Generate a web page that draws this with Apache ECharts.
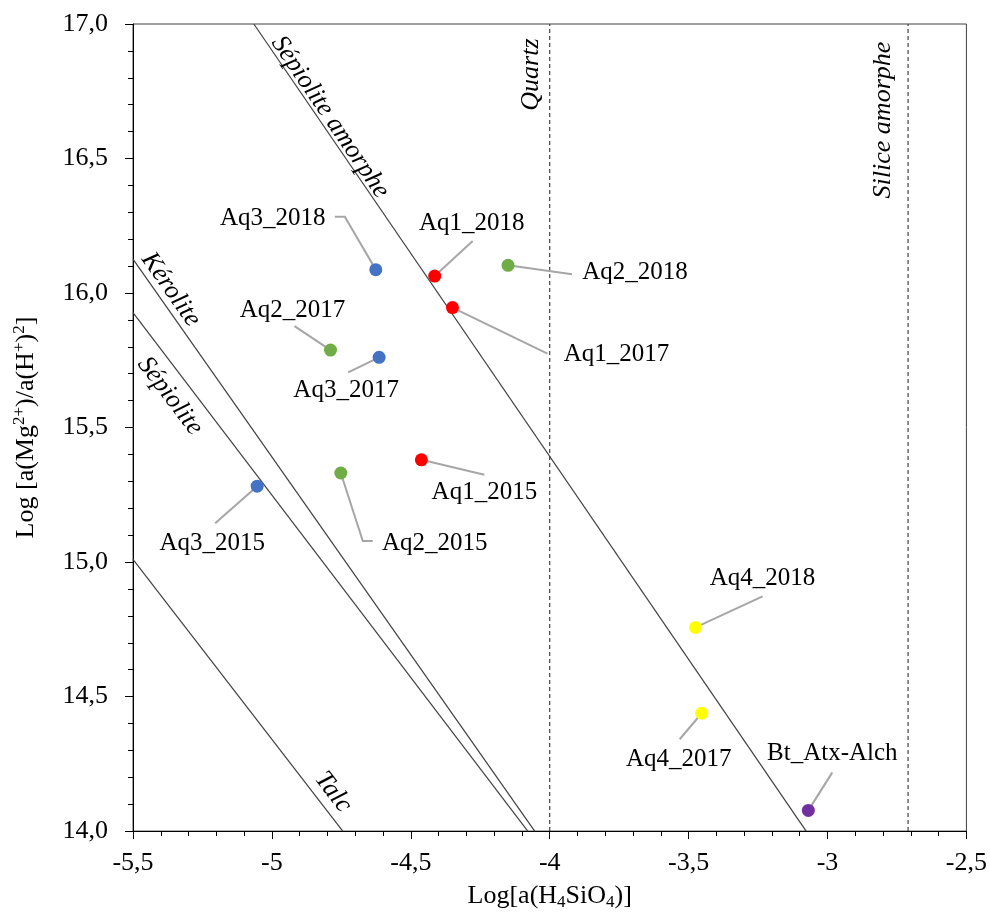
<!DOCTYPE html>
<html>
<head>
<meta charset="utf-8">
<script src="https://cdn.jsdelivr.net/npm/echarts@6/dist/echarts.min.js"></script>
<style>
html,body{margin:0;padding:0;background:#fff;}
#chart{width:990px;height:916px;}
</style>
</head>
<body>
<div id="chart"></div>
<script>
// ---- Data ----
const sampleNames = ['Aq3_2018','Aq1_2018','Aq2_2018','Aq1_2017','Aq2_2017','Aq3_2017','Aq3_2015','Aq2_2015','Aq1_2015','Aq4_2018','Aq4_2017','Bt_Atx-Alch'];
const sampleX = [-4.626,-4.414,-4.150,-4.350,-4.789,-4.614,-5.053,-4.752,-4.462,-3.475,-3.453,-3.069];
const sampleY = [16.087,16.063,16.103,15.946,15.788,15.761,15.282,15.331,15.380,14.757,14.438,14.077];

const talcX = [-5.5, -4.745];
const talcY = [15.01, 14.0];
const keroliteX = [-5.5, -4.054];
const keroliteY = [16.126, 14.0];
const sepioliteX = [-5.5, -4.079];
const sepioliteY = [15.927, 14.0];
const sepAmorpheX = [-5.065, -3.077];
const sepAmorpheY = [17.0, 14.0];
const quartzX = [-4.0, -4.0];
const quartzY = [14.0, 17.0];
const siliceX = [-2.71, -2.71];
const siliceY = [14.0, 17.0];

const xTickValues = [-5.5,-5,-4.5,-4,-3.5,-3,-2.5];
const xTickLabels = ['-5,5','-5','-4,5','-4','-3,5','-3','-2,5'];
const yTickValues = [14,14.5,15,15.5,16,16.5,17];
const yTickLabels = ['14,0','14,5','15,0','15,5','16,0','16,5','17,0'];

const annotTexts = ['Sépiolite amorphe','Kérolite','Sépiolite','Talc','Quartz','Silice amorphe'];
const annotX = [-4.791,-5.364,-5.367,-4.780,-4.065,-2.798];
const annotY = [16.654,16.013,15.617,14.145,16.812,16.643];

// ---- Styles / layout (kept apart from data) ----
const sampleColors = ['#4472C4','#FF0000','#70AD47','#FF0000','#70AD47','#4472C4','#4472C4','#70AD47','#FF0000','#FFFF00','#FFFF00','#7030A0'];
const labelOffsets = [[-103,-51],[37,-53],[127,7],[164,47],[-38,-40],[-33,33],[-45,57],[94,70],[63,33],[67,-49],[-23,46],[24,-57]];
const leaderOffsets = [
  [[-31,-53],[-41,-53]],
  [[38,-35]],
  [[64,9]],
  [[95,46]],
  [[-36,-24]],
  [[-31,15]],
  [[-42,37]],
  [[22,68],[32,68]],
  [[63,15]],
  [[67,-31]],
  [[-22,26]],
  [[24,-38]]
];
const annotRotDeg = [-55.8,-55.1,-52.9,-52.5,90,90];

const SERIF = '"Liberation Serif","Times New Roman",serif';

function pairs(xs, ys){ return xs.map((x,i)=>[x, ys[i]]); }
function fmt(values, labels){
  return function(v){
    const i = values.findIndex(t => Math.abs(t - v) < 1e-6);
    return i >= 0 ? labels[i] : '';
  };
}

const mineralLine = (xs, ys) => ({
  type:'line', data: pairs(xs, ys), showSymbol:false, symbol:'none', silent:true,
  lineStyle:{color:'#404040', width:1.2}, z:2, animation:false
});
const dashedLine = (xs, ys) => ({
  type:'line', data: pairs(xs, ys), showSymbol:false, symbol:'none', silent:true,
  lineStyle:{color:'#404040', width:1.2, type:[4,3]}, z:2, animation:false
});

const chart = echarts.init(document.getElementById('chart'), null, {renderer:'canvas'});
const option = {
  backgroundColor:'#ffffff',
  animation:false,
  grid:{left:133, right:23, top:24, bottom:78, show:true, borderColor:'#404040', borderWidth:1, backgroundColor:'transparent'},
  xAxis:{
    type:'value', min:-5.5, max:-2.5, interval:0.5,
    axisLine:{show:true, onZero:false, lineStyle:{color:'#000', width:1}},
    axisTick:{show:true, length:8, lineStyle:{color:'#000'}},
    minorTick:{show:true, splitNumber:5, length:5, lineStyle:{color:'#000'}},
    splitLine:{show:false}, minorSplitLine:{show:false},
    axisLabel:{formatter: fmt(xTickValues, xTickLabels), fontFamily:SERIF, fontSize:26, color:'#000', margin:19},
    name:'Log[a(H{sub|4}SiO{sub|4})]', nameLocation:'middle', nameGap:49,
    nameTextStyle:{fontFamily:SERIF, fontSize:26, color:'#000', lineHeight:30,
      rich:{sub:{fontFamily:SERIF, fontSize:17, color:'#000', verticalAlign:'bottom', lineHeight:20}}}
  },
  yAxis:{
    type:'value', min:14, max:17, interval:0.5,
    axisLine:{show:true, onZero:false, lineStyle:{color:'#000', width:1}},
    axisTick:{show:true, length:8, lineStyle:{color:'#000'}},
    minorTick:{show:true, splitNumber:5, length:5, lineStyle:{color:'#000'}},
    splitLine:{show:false}, minorSplitLine:{show:false},
    axisLabel:{formatter: fmt(yTickValues, yTickLabels), fontFamily:SERIF, fontSize:26, color:'#000', margin:25},
    name:'Log [a(Mg{sup|2+})/a(H{sup|+}){sup|2}]', nameLocation:'middle', nameGap:92, nameRotate:90,
    nameTextStyle:{fontFamily:SERIF, fontSize:26, color:'#000', lineHeight:30,
      rich:{sup:{fontFamily:SERIF, fontSize:17, color:'#000', verticalAlign:'top', lineHeight:18}}}
  },
  series:[
    mineralLine(talcX, talcY),
    mineralLine(keroliteX, keroliteY),
    mineralLine(sepioliteX, sepioliteY),
    mineralLine(sepAmorpheX, sepAmorpheY),
    dashedLine(quartzX, quartzY),
    dashedLine(siliceX, siliceY),
    {
      type:'custom', silent:true, z:3, animation:false,
      data: sampleX.map((x,i)=>[x, sampleY[i]]),
      renderItem:function(params, api){
        const p = api.coord([api.value(0), api.value(1)]);
        const pts = [p].concat(leaderOffsets[params.dataIndex].map(o=>[p[0]+o[0], p[1]+o[1]]));
        return {type:'polyline', shape:{points:pts}, style:{stroke:'#A6A6A6', lineWidth:2, fill:null}};
      }
    },
    {
      type:'scatter', symbol:'circle', symbolSize:13, z:5, animation:false,
      data: sampleNames.map((n,i)=>({
        name:n, value:[sampleX[i], sampleY[i]],
        itemStyle:{color:sampleColors[i], opacity:1},
        label:{offset:labelOffsets[i]}
      })),
      label:{show:true, position:'inside', formatter:'{b}', fontFamily:SERIF, fontSize:25, color:'#000'}
    },
    {
      type:'custom', silent:true, z:4, animation:false,
      data: annotX.map((x,i)=>[x, annotY[i]]),
      renderItem:function(params, api){
        const p = api.coord([api.value(0), api.value(1)]);
        const i = params.dataIndex;
        return {
          type:'text', x:p[0], y:p[1], rotation: annotRotDeg[i]*Math.PI/180,
          style:{text:annotTexts[i], fontFamily:SERIF, fontSize:26, fontStyle:'italic', fill:'#000', align:'center', verticalAlign:'middle'}
        };
      }
    }
  ]
};
chart.setOption(option);
</script>
</body>
</html>
